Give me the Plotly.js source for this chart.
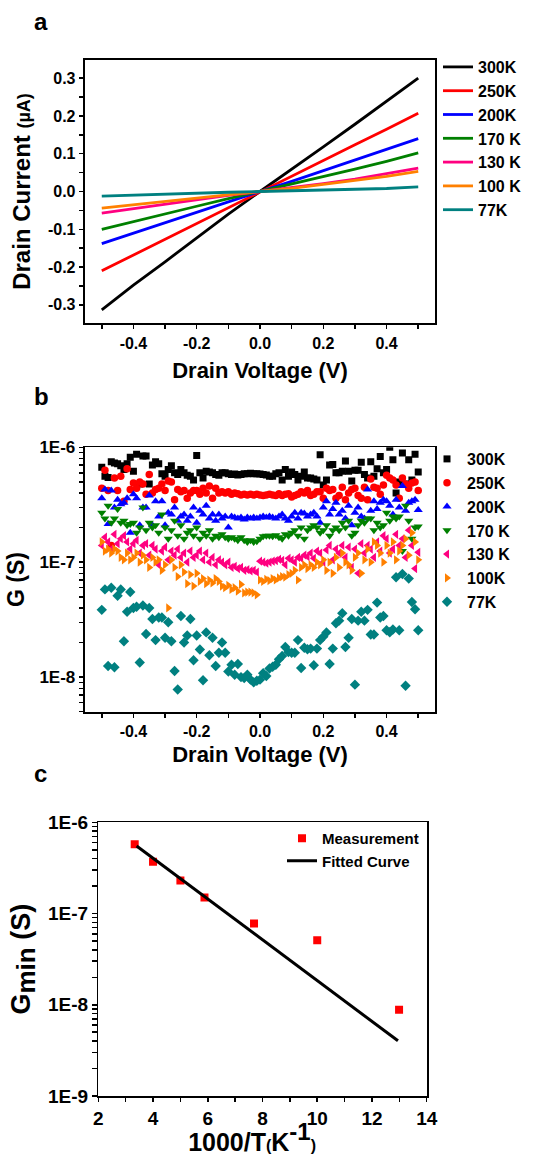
<!DOCTYPE html>
<html>
<head>
<meta charset="utf-8">
<script src="https://cdn.plot.ly/plotly-3.0.1.min.js"></script>
<style>html,body{margin:0;padding:0;background:#fff}#chart{width:541px;height:1156px}</style>
</head>
<body>
<div id="chart"></div>
<script>
// ---------- Panel a : I-V curves ----------
const vA = [-0.5,-0.4,-0.3,-0.2,-0.1,0,0.1,0.2,0.3,0.4,0.5];
const i300 = [-0.313,-0.248,-0.186,-0.122,-0.060,0,0.058,0.118,0.178,0.238,0.300];
const i250 = [-0.210,-0.168,-0.126,-0.084,-0.042,0,0.041,0.083,0.124,0.165,0.207];
const i200 = [-0.138,-0.110,-0.083,-0.055,-0.027,0,0.027,0.055,0.083,0.111,0.140];
const i170 = [-0.100,-0.079,-0.059,-0.039,-0.019,0,0.019,0.039,0.059,0.080,0.102];
const i130 = [-0.057,-0.045,-0.033,-0.021,-0.010,0,0.010,0.021,0.033,0.047,0.062];
const i100 = [-0.044,-0.035,-0.026,-0.017,-0.008,0,0.008,0.018,0.028,0.040,0.053];
const i77  = [-0.012,-0.009,-0.006,-0.004,-0.002,0,0.002,0.003,0.005,0.008,0.012];
const namesA = ['300K','250K','200K','170 K','130 K','100 K','77K'];

// ---------- Panel b : conductance (values in nS) ----------
const vB = [-0.50,-0.49,-0.48,-0.47,-0.46,-0.45,-0.44,-0.43,-0.42,-0.41,
 -0.40,-0.39,-0.38,-0.37,-0.36,-0.35,-0.34,-0.33,-0.32,-0.31,
 -0.30,-0.29,-0.28,-0.27,-0.26,-0.25,-0.24,-0.23,-0.22,-0.21,
 -0.20,-0.19,-0.18,-0.17,-0.16,-0.15,-0.14,-0.13,-0.12,-0.11,
 -0.10,-0.09,-0.08,-0.07,-0.06,-0.05,-0.04,-0.03,-0.02,-0.01,
 0.00,0.01,0.02,0.03,0.04,0.05,0.06,0.07,0.08,0.09,
 0.10,0.11,0.12,0.13,0.14,0.15,0.16,0.17,0.18,0.19,
 0.20,0.21,0.22,0.23,0.24,0.25,0.26,0.27,0.28,0.29,
 0.30,0.31,0.32,0.33,0.34,0.35,0.36,0.37,0.38,0.39,
 0.40,0.41,0.42,0.43,0.44,0.45,0.46,0.47,0.48,0.49,0.50];
const g300 = [670,560,545,750,730,720,690,640,720,820,
 620,870,480,840,840,480,700,750,720,590,
 560,640,690,600,580,640,600,570,560,520,
 850,600,540,620,610,600,580,570,600,600,
 590,580,585,575,580,590,590,595,590,590,
 585,580,575,560,560,590,600,520,640,560,
 610,580,520,560,610,540,540,530,520,860,
 470,520,700,710,600,600,620,760,620,510,
 630,630,740,580,540,750,560,650,830,600,
 640,1000,780,400,500,890,480,780,520,870,610];
const g250 = [440,630,420,140,540,420,560,340,650,430,
 490,440,500,480,390,580,400,430,440,480,
 420,510,500,350,430,410,420,360,400,420,
 420,390,440,400,460,360,440,400,410,400,
 410,390,400,395,385,390,385,390,385,390,
 385,380,385,390,385,380,395,380,390,395,
 370,380,390,410,400,420,380,390,410,410,
 360,440,420,430,360,380,450,350,400,430,
 440,380,360,450,350,530,450,440,390,470,
 570,540,520,470,360,540,480,440,490,500,420];
const g200 = [360,430,215,420,300,350,320,330,360,180,
 390,360,210,300,300,380,210,340,250,340,
 210,270,260,300,230,250,260,230,250,300,
 220,280,260,310,240,260,230,260,240,250,
 200,250,245,240,245,235,245,240,245,240,
 245,250,245,250,245,240,250,260,240,230,
 250,270,240,270,265,250,260,270,250,220,
 300,340,260,290,330,260,280,240,310,210,
 270,300,250,240,430,280,340,290,330,350,
 340,310,260,350,300,460,280,330,340,350,285];
const g170 = [270,240,310,220,240,290,220,230,210,215,
 220,180,200,300,190,220,200,210,180,260,
 200,160,190,230,170,210,160,180,190,170,
 200,160,180,170,190,160,170,165,175,165,
 160,165,160,155,165,155,150,155,150,152,
 160,168,170,170,168,172,165,160,175,170,
 180,190,170,200,160,190,200,210,200,180,
 190,210,170,190,200,190,220,200,230,170,
 180,210,230,220,240,240,190,220,200,210,
 270,230,250,240,250,125,310,230,160,200,205];
const g130 = [140,165,150,130,175,145,160,170,150,130,
 145,155,120,140,145,115,140,130,95,125,
 135,105,125,115,130,110,120,100,125,110,
 115,125,105,120,100,110,95,105,100,95,
 100,90,92,88,90,85,86,84,85,82,
 102,100,98,100,102,103,106,104,95,108,
 105,100,110,108,115,112,120,108,125,120,
 100,128,140,105,130,120,140,110,135,90,
 130,80,145,120,140,130,110,150,125,170,
 160,120,130,175,140,160,110,190,140,88,122];
const g100 = [150,125,130,120,130,125,110,105,120,105,
 110,120,100,115,105,90,110,100,105,85,
 95,40,105,90,75,95,82,65,78,62,
 80,68,72,65,70,66,72,68,62,60,
 63,58,60,56,64,54,55,55,54,52,
 70,68,71,69,72,70,73,75,74,78,
 80,85,70,90,95,88,95,90,100,95,
 105,85,100,80,110,90,120,100,95,85,
 110,120,80,105,130,100,150,140,120,100,
 140,120,150,105,125,140,160,115,180,150,105];
const g77 = [38.5,58,12.5,60,12.2,51,58,20.5,37,55,
 40,41,13.4,42,23.7,40,32,21,33,33,
 22,30,20.5,11.3,7.8,34,20,23,32,14,
 23,17.4,9.4,24.5,15.5,22,12.5,16.3,20,16.3,
 11.2,12.8,10.5,13,10,9.8,10.5,9.5,9.0,9.3,
 9.5,10.8,10.2,11.9,12.3,12.8,14.3,15.3,18.3,16.5,
 16.3,16.3,21,12,18,17.5,17.7,12.7,17.7,21,
 22.5,24.5,13,17.7,29.4,31,36,18.3,22,32,
 8.6,31,37,31,38.5,23.5,23.5,44.5,33,34,
 25.6,24.6,26,74,25.6,79,8.4,72,45,39,25.6];
const namesB = ['300K','250K','200K','170 K','130 K','100K','77K'];

// ---------- Panel c : Gmin vs 1000/T ----------
const invT = [3.33,4.0,5.0,5.88,7.69,10.0,12.99];
const gMin = [5.75e-7,3.7e-7,2.3e-7,1.5e-7,7.8e-8,5.1e-8,8.8e-9];
const fitX = [3.4,12.95];
const fitY = [5.5e-7,4.03e-9];

// ---------- Tick labels / tick positions ----------
const tickA_x = [-0.4,-0.2,0,0.2,0.4];
const tickA_xt = ['-0.4','-0.2','0.0','0.2','0.4'];
const minorA_x = [-0.5,-0.3,-0.1,0.1,0.3,0.5];
const tickA_y = [-0.3,-0.2,-0.1,0,0.1,0.2,0.3];
const tickA_yt = ['-0.3','-0.2','-0.1','0.0','0.1','0.2','0.3'];
const minorA_y = [-0.25,-0.15,-0.05,0.05,0.15,0.25];
const tickB_y = [1e-8,1e-7,1e-6];
const tickB_yt = ['1E-8','1E-7','1E-6'];
const minorB_y = [5e-9,6e-9,7e-9,8e-9,9e-9,2e-8,3e-8,4e-8,5e-8,6e-8,7e-8,8e-8,9e-8,2e-7,3e-7,4e-7,5e-7,6e-7,7e-7,8e-7,9e-7];
const tickC_y = [1e-9,1e-8,1e-7,1e-6];
const tickC_yt = ['1E-9','1E-8','1E-7','1E-6'];
const minorC_y = [2e-9,3e-9,4e-9,5e-9,6e-9,7e-9,8e-9,9e-9,2e-8,3e-8,4e-8,5e-8,6e-8,7e-8,8e-8,9e-8,2e-7,3e-7,4e-7,5e-7,6e-7,7e-7,8e-7,9e-7];
const tickC_x = [2,4,6,8,10,12,14];
const tickC_xt = ['2','4','6','8','10','12','14'];
const minorC_x = [3,5,7,9,11,13];

const colors = ['#000000','#ff0000','#0000ff','#008000','#ff0080','#ff8000','#008080'];
const symbols = ['square','circle','triangle-up','triangle-down','triangle-left','triangle-right','diamond'];
const msizes = [7,7.5,8,8,8,8,8];
const FONT = 'Liberation Sans, Arial, sans-serif';
const W = 541, H = 1156;

const traces = [];
const iSeries = [i300,i250,i200,i170,i130,i100,i77];
iSeries.forEach((ys,k)=>{
  traces.push({x:vA,y:ys,type:'scatter',mode:'lines',name:namesA[k],
    line:{color:colors[k],width:2.8},xaxis:'x',yaxis:'y',legend:'legend'});
});
const gSeries = [g300,g250,g200,g170,g130,g100,g77];
gSeries.forEach((ys,k)=>{
  traces.push({x:vB,y:ys.map(v=>v*1e-9),type:'scatter',mode:'markers',name:namesB[k],
    marker:{color:colors[k],symbol:symbols[k],size:msizes[k],line:{width:0}},
    xaxis:'x2',yaxis:'y2',legend:'legend2'});
});
traces.push({x:invT,y:gMin,type:'scatter',mode:'markers',name:'Measurement',
  marker:{color:'#ff0000',symbol:'square',size:8},xaxis:'x3',yaxis:'y3',legend:'legend3'});
traces.push({x:fitX,y:fitY,type:'scatter',mode:'lines',name:'Fitted Curve',
  line:{color:'#000000',width:3},xaxis:'x3',yaxis:'y3',legend:'legend3'});

function dx(a,b){return [a/W,b/W];}
function dy(top,bot){return [1-bot/H,1-top/H];}
// major + unlabeled minor ticks
function ticks(major,labels,minorVals){
  return {tickmode:'array',tickvals:major.concat(minorVals),ticktext:labels.concat(minorVals.map(()=>''))};
}
const axBase = {showline:true,linecolor:'#000',linewidth:1.8,mirror:true,ticks:'outside',
  ticklen:4.5,tickwidth:1.5,tickcolor:'#000',showgrid:false,zeroline:false,
  tickfont:{family:FONT,size:16,color:'#000',weight:'bold'}};
function ax(extra,t){return Object.assign({},JSON.parse(JSON.stringify(axBase)),t,extra);}

const layout = {
  width:W,height:H,margin:{l:0,r:0,t:0,b:0},paper_bgcolor:'#fff',plot_bgcolor:'#fff',
  font:{family:FONT,color:'#000'},
  xaxis: ax({domain:dx(85,435),anchor:'y',range:[-0.553,0.553],
    title:{text:'<b>Drain Voltage (V)</b>',font:{size:22,family:FONT},standoff:12}}, ticks(tickA_x,tickA_xt,minorA_x)),
  yaxis: ax({domain:dy(60,323),anchor:'x',range:[-0.348,0.348],
    title:{text:'<b>Drain Current <span style="font-size:18px">(µA)</span></b>',font:{size:24,family:FONT},standoff:10}}, ticks(tickA_y,tickA_yt,minorA_y)),
  xaxis2: ax({domain:dx(85,435),anchor:'y2',range:[-0.553,0.553],
    title:{text:'<b>Drain Voltage (V)</b>',font:{size:22,family:FONT},standoff:7}}, ticks(tickA_x,tickA_xt,minorA_x)),
  yaxis2: ax({domain:dy(447.3,711.7),anchor:'x2',type:'log',range:[Math.log10(5e-9),-6],
    tickfont:{family:FONT,size:17,color:'#000',weight:'bold'},
    title:{text:'<b>G (S)</b>',font:{size:23,family:FONT},standoff:8}}, ticks(tickB_y,tickB_yt,minorB_y)),
  xaxis3: ax({domain:dx(98.3,426.7),anchor:'y3',range:[2,14],
    tickfont:{family:FONT,size:19,color:'#000',weight:'bold'},
    title:{text:'<b>1000/T<span style="font-size:16px">(</span>K<sup><span style="font-size:24px">-1</span></sup><span style="font-size:16px">)</span>&nbsp;&nbsp;&nbsp;</b>',font:{size:25,family:FONT},standoff:14}}, ticks(tickC_x,tickC_xt,minorC_x)),
  yaxis3: ax({domain:dy(822.3,1096),anchor:'x3',type:'log',range:[-9,-6],
    tickfont:{family:FONT,size:19,color:'#000',weight:'bold'},
    title:{text:'<b>G<sub><span style="font-size:26px">min</span></sub> (S)</b>',font:{size:27,family:FONT},standoff:10}}, ticks(tickC_y,tickC_yt,minorC_y)),
  legend:{x:438/W,xanchor:'left',y:1-50/H,yanchor:'top',bgcolor:'rgba(0,0,0,0)',
    font:{family:FONT,size:16,color:'#000',weight:'bold'}},
  legend2:{x:427/W,xanchor:'left',y:1-442/H,yanchor:'top',bgcolor:'rgba(0,0,0,0)',
    font:{family:FONT,size:16,color:'#000',weight:'bold'}},
  legend3:{x:282/W,xanchor:'left',y:1-822/H,yanchor:'top',bgcolor:'rgba(0,0,0,0)',
    font:{family:FONT,size:15,color:'#000',weight:'bold'}},
  showlegend:true,
  annotations:[
    {text:'<b>a</b>',x:32/W,y:1-6/H,xref:'paper',yref:'paper',xanchor:'left',yanchor:'top',showarrow:false,font:{family:FONT,size:24,color:'#000'}},
    {text:'<b>b</b>',x:32/W,y:1-381/H,xref:'paper',yref:'paper',xanchor:'left',yanchor:'top',showarrow:false,font:{family:FONT,size:24,color:'#000'}},
    {text:'<b>c</b>',x:32/W,y:1-758/H,xref:'paper',yref:'paper',xanchor:'left',yanchor:'top',showarrow:false,font:{family:FONT,size:24,color:'#000'}}
  ]
};
Plotly.newPlot('chart',traces,layout,{displayModeBar:false,staticPlot:true});
</script>
</body>
</html>
